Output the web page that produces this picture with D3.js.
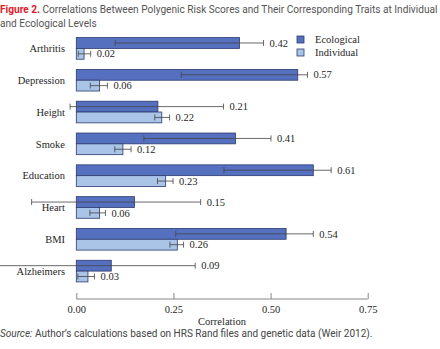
<!DOCTYPE html>
<html>
<head>
<meta charset="utf-8">
<script src="https://cdn.jsdelivr.net/npm/d3@7"></script>
<style>
  body { margin: 0; background: #fff; }
  svg text { font-family: "Liberation Serif", serif; }
  .title { font-family: Roboto, "Liberation Sans", sans-serif; font-size: 11px; fill: #555; }
  .title tspan.fig { fill: #e0202a; font-weight: bold; }
  .source { font-family: Roboto, "Liberation Sans", sans-serif; font-size: 10px; fill: #444; }
</style>
</head>
<body>
<script>
// categorieen en waarden
var traits = ["Arthritis", "Depression", "Height", "Smoke", "Education", "Heart", "BMI", "Alzheimers"];
var ecoValues = [0.42, 0.57, 0.21, 0.41, 0.61, 0.15, 0.54, 0.09];
var ecoLow = [0.10, 0.27, -0.016, 0.174, 0.38, -0.115, 0.256, -0.20];
var ecoHigh = [0.482, 0.595, 0.379, 0.501, 0.656, 0.32, 0.61, 0.306];
var indValues = [0.02, 0.06, 0.22, 0.12, 0.23, 0.06, 0.26, 0.03];
var indLow = [0.005, 0.036, 0.202, 0.099, 0.209, 0.035, 0.241, 0.004];
var indHigh = [0.037, 0.08, 0.24, 0.141, 0.249, 0.075, 0.276, 0.047];
var xTicks = [0, 0.25, 0.5, 0.75];

var width = 440;
var height = 349;
var svg = d3.select("body").append("svg")
.attr("width", width)
.attr("height", height);

var ecoColor = "#5670c0";
var indColor = "#a9c4e6";
var strokeColor = "#2c3a6e";
var textColor = "#262626";

// titel (lettergrootte aanpassen zodat de eerste regel precies past)
var title = svg.append("text").attr("class", "title").attr("x", 0).attr("y", 13);
title.append("tspan").attr("class", "fig").text("Figure 2.");
title.append("tspan").text(" Correlations Between Polygenic Risk Scores and Their Corresponding Traits at Individual");
var title2 = svg.append("text").attr("class", "title").attr("x", 0).attr("y", 27)
.text("and Ecological Levels");
var fs = 11 * 438 / title.node().getComputedTextLength();
title.style("font-size", fs + "px");
title2.style("font-size", fs + "px");

var x = d3.scaleLinear().domain([0, 0.75]).range([76.3, 367.7]);
var y = d3.scaleBand().domain(traits)
.range([32.5, 287])
.paddingInner(0.32)
.paddingOuter(0.16);
var half = y.bandwidth() / 2;

var rows = traits.map((t, i) => ({
  trait: t,
  series: [
    {key: "eco", v: ecoValues[i], lo: ecoLow[i], hi: ecoHigh[i], y0: y(t), fill: ecoColor},
    {key: "ind", v: indValues[i], lo: indLow[i], hi: indHigh[i], y0: y(t) + half, fill: indColor}
  ]
}));
var bars = rows.flatMap(r => r.series);

// balken
svg.selectAll("rect.bar").data(bars).enter()
.append("rect")
.attr("class", "bar")
.attr("x", x(0))
.attr("y", d => d.y0)
.attr("width", d => x(d.v) - x(0))
.attr("height", half)
.attr("fill", d => d.fill)
.attr("stroke", strokeColor)
.attr("stroke-width", 0.8);

// foutenbalken
var err = svg.selectAll("g.err").data(bars).enter()
.append("g")
.attr("class", "err")
.attr("stroke", "#444")
.attr("stroke-width", 0.8);
err.append("line")
.attr("x1", d => Math.max(0, x(d.lo)))
.attr("x2", d => x(d.hi))
.attr("y1", d => d.y0 + half / 2)
.attr("y2", d => d.y0 + half / 2);
err.filter(d => x(d.lo) >= 0).append("line")
.attr("x1", d => x(d.lo)).attr("x2", d => x(d.lo))
.attr("y1", d => d.y0 + half / 2 - 3)
.attr("y2", d => d.y0 + half / 2 + 3);
err.append("line")
.attr("x1", d => x(d.hi)).attr("x2", d => x(d.hi))
.attr("y1", d => d.y0 + half / 2 - 3)
.attr("y2", d => d.y0 + half / 2 + 3);

// waarde labels
svg.selectAll("text.val").data(bars).enter()
.append("text")
.attr("class", "val")
.attr("x", d => x(d.hi) + 6)
.attr("y", d => d.y0 + half / 2)
.attr("dy", "0.35em")
.attr("font-size", 10.5)
.attr("fill", textColor)
.text(d => d3.format(".2f")(d.v));

// categorie labels
svg.selectAll("text.cat").data(traits).enter()
.append("text")
.attr("class", "cat")
.attr("x", 65)
.attr("y", d => y(d) + half)
.attr("dy", "0.35em")
.attr("text-anchor", "end")
.attr("font-size", 10.5)
.attr("fill", textColor)
.text(d => d);

// x-as
var axis = svg.append("g")
.attr("transform", "translate(0,299)")
.call(d3.axisTop(x).tickValues(xTicks).tickSize(6).tickFormat(d3.format(".2f")));
axis.select(".domain").attr("d", "M" + x(0) + ",0H" + x(0.75)).attr("stroke", "#888");
axis.selectAll(".tick line").attr("stroke", "#888");
axis.selectAll(".tick text")
.attr("y", 10)
.attr("dy", "0.35em")
.attr("font-family", "Liberation Serif, serif")
.attr("font-size", 10.5)
.attr("fill", textColor);
svg.append("text")
.attr("x", x(0.375))
.attr("y", 321)
.attr("dy", "0.35em")
.attr("text-anchor", "middle")
.attr("font-size", 10.5)
.attr("fill", textColor)
.text("Correlation");

// legende
var legend = svg.append("g").attr("transform", "translate(297,36)");
[["Ecological", ecoColor], ["Individual", indColor]].forEach((l, i) => {
  var g = legend.append("g").attr("transform", "translate(0," + (i * 13) + ")");
  g.append("rect").attr("width", 7).attr("height", 7)
  .attr("fill", l[1]).attr("stroke", strokeColor).attr("stroke-width", 0.8);
  g.append("text").attr("x", 18).attr("y", 3.5).attr("dy", "0.35em")
  .attr("font-size", 10.5).attr("fill", textColor).text(l[0]);
});

// bron
var src = svg.append("text").attr("class", "source").attr("x", 0).attr("y", 337);
src.append("tspan").attr("font-style", "italic").text("Source:");
src.append("tspan").text(" Author’s calculations based on HRS Rand files and genetic data (Weir 2012).");
</script>
</body>
</html>
